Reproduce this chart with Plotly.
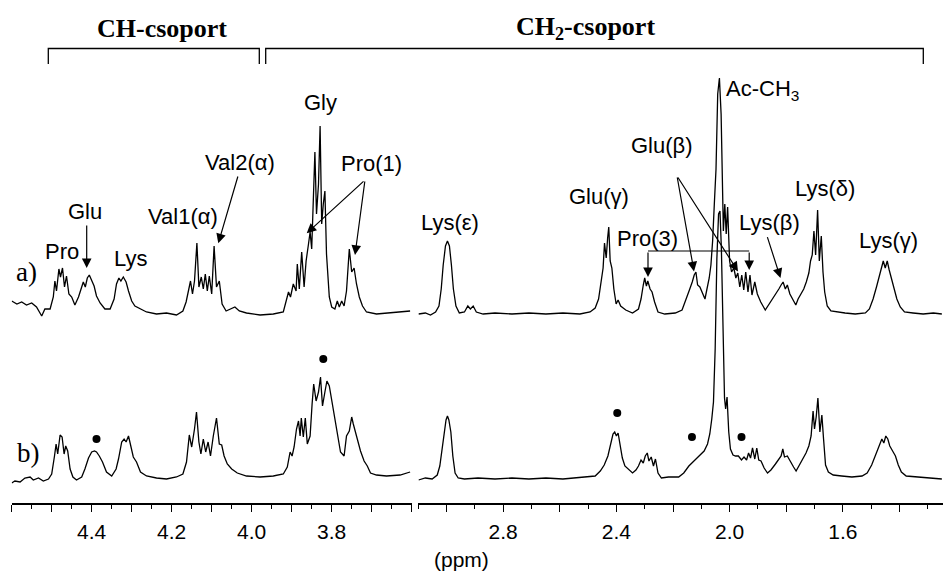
import plotly.graph_objects as go

# ---------------- data (ppm, intensity above the spectrum's baseline) ----------------
a_left_ppm = [4.600, 4.587, 4.575, 4.563, 4.550, 4.538, 4.525, 4.517, 4.504, 4.496,
              4.492, 4.488, 4.482, 4.478, 4.473, 4.468, 4.463, 4.457, 4.450, 4.442,
              4.433, 4.427, 4.421, 4.416, 4.411, 4.406, 4.400, 4.394, 4.388, 4.379,
              4.367, 4.354, 4.344, 4.338, 4.332, 4.327, 4.321, 4.314, 4.308, 4.300,
              4.292, 4.279, 4.263, 4.238, 4.213, 4.188, 4.172, 4.164, 4.158, 4.153,
              4.148, 4.143, 4.137, 4.132, 4.126, 4.121, 4.116, 4.111, 4.106, 4.100,
              4.094, 4.088, 4.081, 4.074, 4.064, 4.053, 4.042, 4.031, 4.013, 3.979,
              3.946, 3.921, 3.913, 3.908, 3.903, 3.896, 3.889, 3.886, 3.881, 3.875,
              3.869, 3.864, 3.858, 3.854, 3.850, 3.846, 3.842, 3.838, 3.833, 3.829,
              3.825, 3.821, 3.817, 3.813, 3.806, 3.800, 3.792, 3.786, 3.781, 3.775,
              3.769, 3.763, 3.756, 3.750, 3.744, 3.738, 3.731, 3.723, 3.713, 3.688,
              3.663, 3.629, 3.604]
a_left_int = [13, 10, 12, 9, 11, 7, -2, 5, 5, 17,
              33, 23, 45, 37, 46, 27, 38, 20, 17, 9,
              17, 25, 32, 27, 36, 39, 33, 28, 18, 11,
              5, 5, 15, 30, 36, 33, 37, 32, 23, 13,
              8, 5, 2, 0, 1, -1, 3, 12, 23, 33,
              20, 33, 71, 27, 37, 25, 40, 23, 38, 20,
              68, 27, 33, 10, 3, 5, 7, 3, 1, -1,
              0, 2, 13, 22, 17, 30, 23, 50, 25, 62,
              27, 53, 70, 82, 65, 110, 162, 100, 130, 188,
              90, 110, 123, 60, 17, 7, 5, 13, 7, 13,
              8, 23, 65, 42, 46, 30, 17, 8, 2, 0,
              1, 2, 3]

a_right_ppm = [3.099, 3.075, 3.057, 3.039, 3.027, 3.019, 3.012, 3.004, 2.997, 2.990,
               2.983, 2.976, 2.967, 2.955, 2.937, 2.925, 2.916, 2.906, 2.895, 2.871,
               2.829, 2.769, 2.709, 2.649, 2.589, 2.529, 2.493, 2.475, 2.463, 2.453,
               2.447, 2.442, 2.436, 2.431, 2.427, 2.422, 2.416, 2.409, 2.401, 2.394,
               2.385, 2.367, 2.343, 2.322, 2.313, 2.305, 2.300, 2.294, 2.289, 2.281,
               2.274, 2.265, 2.253, 2.229, 2.192, 2.168, 2.154, 2.142, 2.132, 2.125,
               2.119, 2.113, 2.105, 2.096, 2.087, 2.080, 2.072, 2.066, 2.060, 2.054,
               2.048, 2.042, 2.036, 2.030, 2.025, 2.022, 2.017, 2.012, 2.007, 2.000,
               1.993, 1.985, 1.978, 1.971, 1.964, 1.957, 1.950, 1.943, 1.935, 1.928,
               1.921, 1.911, 1.902, 1.890, 1.874, 1.862, 1.850, 1.838, 1.826, 1.818,
               1.811, 1.803, 1.796, 1.787, 1.777, 1.766, 1.758, 1.748, 1.738, 1.729,
               1.720, 1.714, 1.708, 1.702, 1.696, 1.689, 1.683, 1.676, 1.670, 1.664,
               1.655, 1.642, 1.622, 1.592, 1.556, 1.520, 1.506, 1.493, 1.481, 1.472,
               1.465, 1.457, 1.450, 1.443, 1.436, 1.429, 1.419, 1.409, 1.397, 1.382,
               1.352, 1.316, 1.280, 1.250]
a_right_int = [0, 1, -1, 2, 8, 25, 49, 68, 73, 68,
               49, 25, 8, 1, 2, 8, 5, 8, 2, 0,
               1, 0, 1, 0, 1, 0, 2, 6, 15, 32,
               46, 71, 56, 76, 87, 53, 46, 25, 10, 14,
               8, 4, 1, 5, 15, 29, 36, 28, 33, 25,
               22, 12, 2, 0, 1, 4, 14, 24, 32, 39,
               42, 29, 27, 20, 15, 25, 36, 49, 73, 110,
               145, 220, 236, 200, 107, 83, 110, 80, 107, 53,
               42, 46, 36, 41, 27, 39, 24, 42, 22, 39,
               19, 32, 20, 12, 4, 9, 14, 20, 25, 29,
               32, 25, 29, 20, 15, 9, 15, 20, 25, 32,
               41, 53, 59, 83, 59, 104, 53, 78, 42, 22,
               8, 3, 2, 1, 0, 1, 5, 15, 27, 36,
               44, 53, 46, 53, 44, 36, 25, 15, 7, 2,
               1, 0, 1, 0]

b_left_ppm = [4.600, 4.592, 4.579, 4.567, 4.554, 4.546, 4.533, 4.521, 4.508, 4.500,
              4.493, 4.489, 4.485, 4.479, 4.474, 4.469, 4.465, 4.460, 4.454, 4.447,
              4.438, 4.425, 4.417, 4.408, 4.400, 4.393, 4.388, 4.381, 4.373, 4.363,
              4.350, 4.339, 4.333, 4.325, 4.319, 4.314, 4.308, 4.303, 4.296, 4.288,
              4.278, 4.263, 4.238, 4.213, 4.188, 4.172, 4.163, 4.156, 4.150, 4.143,
              4.138, 4.132, 4.127, 4.121, 4.115, 4.109, 4.103, 4.096, 4.088, 4.081,
              4.075, 4.069, 4.061, 4.050, 4.036, 4.013, 3.979, 3.946, 3.921, 3.911,
              3.904, 3.899, 3.894, 3.888, 3.883, 3.879, 3.876, 3.871, 3.866, 3.861,
              3.854, 3.849, 3.845, 3.839, 3.833, 3.828, 3.823, 3.817, 3.812, 3.806,
              3.800, 3.793, 3.786, 3.778, 3.769, 3.763, 3.756, 3.750, 3.746, 3.741,
              3.735, 3.728, 3.719, 3.711, 3.703, 3.688, 3.663, 3.629, 3.604]
b_left_int = [-4, -2, -3, 1, 2, -1, 1, -2, 0, 5,
              23, 35, 25, 44, 42, 25, 33, 28, 10, 2,
              -1, 2, 10, 21, 27, 28, 27, 23, 17, 7,
              3, 10, 20, 37, 40, 37, 43, 33, 22, 17,
              7, 3, 1, 0, 2, 5, 17, 44, 32, 50,
              67, 37, 25, 40, 27, 37, 23, 43, 61, 35,
              34, 23, 15, 10, 6, 3, 2, 3, 5, 12,
              27, 23, 32, 50, 58, 43, 61, 42, 61, 35,
              43, 75, 95, 78, 87, 102, 73, 87, 98, 93,
              78, 63, 47, 27, 23, 43, 48, 62, 55, 47,
              40, 28, 18, 13, 6, 4, 3, 4, 7]

b_right_ppm = [3.099, 3.075, 3.051, 3.033, 3.024, 3.015, 3.008, 3.002, 2.997, 2.992,
               2.985, 2.978, 2.970, 2.959, 2.937, 2.889, 2.829, 2.769, 2.709, 2.649,
               2.589, 2.541, 2.505, 2.475, 2.457, 2.443, 2.430, 2.421, 2.412, 2.406,
               2.400, 2.394, 2.387, 2.379, 2.370, 2.358, 2.343, 2.331, 2.322, 2.313,
               2.305, 2.298, 2.291, 2.285, 2.277, 2.269, 2.262, 2.253, 2.241, 2.216,
               2.180, 2.162, 2.144, 2.126, 2.108, 2.090, 2.078, 2.070, 2.063, 2.057,
               2.051, 2.045, 2.039, 2.034, 2.029, 2.023, 2.018, 2.014, 2.009, 2.003,
               1.997, 1.988, 1.979, 1.969, 1.958, 1.949, 1.940, 1.933, 1.926, 1.919,
               1.911, 1.904, 1.897, 1.889, 1.878, 1.866, 1.854, 1.838, 1.826, 1.818,
               1.812, 1.806, 1.796, 1.787, 1.774, 1.765, 1.754, 1.742, 1.730, 1.720,
               1.712, 1.705, 1.700, 1.694, 1.688, 1.681, 1.674, 1.668, 1.661, 1.651,
               1.634, 1.604, 1.568, 1.532, 1.514, 1.498, 1.484, 1.472, 1.462, 1.455,
               1.448, 1.441, 1.434, 1.424, 1.414, 1.404, 1.393, 1.376, 1.340, 1.304,
               1.250]
b_right_int = [-1, 1, 0, 4, 13, 31, 50, 59, 63, 59,
               47, 23, 6, 1, 0, 1, 0, 1, 0, 1,
               0, 1, 2, 3, 8, 14, 23, 33, 45, 47,
               43, 46, 36, 21, 13, 10, 6, 9, 13, 19,
               16, 23, 26, 18, 22, 13, 20, 6, 1, 2,
               2, 6, 13, 18, 23, 28, 35, 45, 60, 77,
               130, 220, 265, 268, 230, 140, 81, 70, 82, 47,
               30, 24, 23, 23, 19, 22, 19, 26, 21, 31,
               20, 31, 19, 18, 11, 6, 9, 15, 20, 23,
               30, 22, 23, 18, 12, 8, 14, 19, 26, 33,
               43, 68, 50, 62, 81, 47, 64, 40, 14, 7,
               4, 3, 2, 3, 6, 14, 24, 31, 40, 36,
               43, 40, 33, 28, 23, 14, 7, 3, 2, 1,
               0]

# peaks marked with a dot in spectrum b)
dot_left_ppm = [4.388, 3.821]
dot_left_int = [40, 120]
dot_right_ppm = [2.397, 2.133, 1.958]
dot_right_int = [66, 42, 42]

# axis ticks
left_major = [4.6, 4.5, 4.4, 4.3, 4.2, 4.1, 4.0, 3.9, 3.8, 3.7, 3.6]
left_minor = [4.55, 4.45, 4.35, 4.25, 4.15, 4.05, 3.95, 3.85, 3.75, 3.65]
left_labels = ["", "", "4.4", "", "4.2", "", "4.0", "", "3.8", "", ""]
right_major = [3.0, 2.8, 2.6, 2.4, 2.2, 2.0, 1.8, 1.6, 1.4]
right_minor = [3.1, 2.9, 2.7, 2.5, 2.3, 2.1, 1.9, 1.7, 1.5, 1.3]
right_labels = ["", "2.8", "", "2.4", "", "2.0", "", "1.6", ""]

# ---------------- layout geometry (pixels) ----------------
W, H = 943, 574
AXIS_Y = 503          # pixel row of the x axis line
A_BASE = 314          # pixel row of spectrum a) baseline
B_BASE = 479          # pixel row of spectrum b) baseline
LEFT_X0, LEFT_X1 = 11.7, 411.7
RIGHT_X0 = 418.3
RIGHT_PX_PER_PPM = 283.0
LEFT_RANGE = [4.6, 3.6]
RIGHT_RANGE = [3.1, 3.1 - (W - RIGHT_X0) / RIGHT_PX_PER_PPM]

SANS = "Liberation Sans, Arial, Helvetica, sans-serif"
SERIF = "Liberation Serif, Times New Roman, serif"


def px(x):
    return x / W


def py(y):
    return (AXIS_Y - y) / AXIS_Y


fig = go.Figure()


def add_spec(ppm, inten, base, xa):
    off = AXIS_Y - base
    fig.add_trace(go.Scatter(x=ppm, y=[v + off for v in inten], mode="lines",
                             line=dict(color="black", width=1.3),
                             xaxis=xa, yaxis="y", hoverinfo="skip", showlegend=False))


add_spec(a_left_ppm, a_left_int, A_BASE, "x")
add_spec(a_right_ppm, a_right_int, A_BASE, "x2")
add_spec(b_left_ppm, b_left_int, B_BASE, "x")
add_spec(b_right_ppm, b_right_int, B_BASE, "x2")

fig.add_trace(go.Scatter(x=dot_left_ppm, y=[v + AXIS_Y - B_BASE for v in dot_left_int],
                         mode="markers", marker=dict(size=8, color="black"),
                         xaxis="x", yaxis="y", hoverinfo="skip", showlegend=False))
fig.add_trace(go.Scatter(x=dot_right_ppm, y=[v + AXIS_Y - B_BASE for v in dot_right_int],
                         mode="markers", marker=dict(size=8, color="black"),
                         xaxis="x2", yaxis="y", hoverinfo="skip", showlegend=False))

axis_common = dict(showline=True, linecolor="black", linewidth=1.5, ticks="outside",
                   ticklen=7, tickwidth=1.2, tickcolor="black", showgrid=False,
                   zeroline=False, anchor="y", tickmode="array",
                   tickfont=dict(family=SANS, size=21, color="black"),
                   ticklabelstandoff=2)

fig.update_layout(
    width=W, height=H,
    margin=dict(l=0, r=0, t=0, b=H - AXIS_Y, pad=0),
    paper_bgcolor="white", plot_bgcolor="white",
    showlegend=False,
    xaxis=dict(domain=[px(LEFT_X0), px(LEFT_X1)], range=LEFT_RANGE,
               tickvals=left_major, ticktext=left_labels,
               minor=dict(tickmode="array", tickvals=left_minor, ticks="outside",
                          ticklen=4, tickwidth=1.2, tickcolor="black", showgrid=False),
               **axis_common),
    xaxis2=dict(domain=[px(RIGHT_X0), 1.0], range=RIGHT_RANGE,
                tickvals=right_major, ticktext=right_labels,
                minor=dict(tickmode="array", tickvals=right_minor, ticks="outside",
                           ticklen=4, tickwidth=1.2, tickcolor="black", showgrid=False),
                **axis_common),
    yaxis=dict(domain=[0, 1], range=[0, AXIS_Y], visible=False, fixedrange=True),
)

# ---------------- text labels ----------------
LS = 22
labels = [
    ("CH-csoport", 162, 28, SERIF, 26, True, "center"),
    ("CH<sub>2</sub>-csoport", 585, 28, SERIF, 26, True, "center"),
    ("Gly", 320, 103, SANS, LS, False, "center"),
    ("Val2(α)", 240, 162, SANS, LS, False, "center"),
    ("Pro(1)", 371.7, 163, SANS, LS, False, "center"),
    ("Val1(α)", 183.3, 216.7, SANS, LS, False, "center"),
    ("Glu", 85, 211.7, SANS, LS, False, "center"),
    ("Pro", 61.7, 251.7, SANS, LS, False, "center"),
    ("Lys", 130, 258.3, SANS, LS, False, "center"),
    ("Lys(ε)", 450, 222, SANS, LS, False, "center"),
    ("Glu(γ)", 598.6, 196.5, SANS, LS, False, "center"),
    ("Pro(3)", 647, 239, SANS, LS, False, "center"),
    ("Glu(β)", 661.5, 145.5, SANS, LS, False, "center"),
    ("Ac-CH<sub>3</sub>", 724, 90, SANS, LS, False, "left"),
    ("Lys(β)", 769.5, 222, SANS, LS, False, "center"),
    ("Lys(δ)", 824.7, 188, SANS, LS, False, "center"),
    ("Lys(γ)", 888.4, 240.7, SANS, LS, False, "center"),
    ("a)", 26.7, 271.7, SERIF, 27, False, "center"),
    ("b)", 28.3, 453.3, SERIF, 27, False, "center"),
    ("(ppm)", 461, 559, SANS, 21, False, "center"),
]
annotations = []
for text, x, y, fam, size, bold, anchor in labels:
    annotations.append(dict(
        text=f"<b>{text}</b>" if bold else text,
        x=px(x), y=py(y), xref="paper", yref="paper",
        xanchor=anchor, yanchor="middle", showarrow=False,
        font=dict(family=fam, size=size, color="black")))

# arrows: (tail_x, tail_y, tip_x, tip_y) in pixels
arrows = [
    (86.7, 224, 86.7, 268),
    (238.3, 175, 218.3, 243.3),
    (365, 180, 306.7, 233.3),
    (365, 180, 355, 255),
    (677, 176, 694, 271.4),
    (677, 176, 738, 271.4),
    (648, 251, 648, 277),
    (749.2, 251, 749.2, 270),
    (766.9, 235.6, 780.5, 278),
]
for tx, ty, hx, hy in arrows:
    annotations.append(dict(
        text="", x=px(hx), y=py(hy), xref="paper", yref="paper",
        ax=tx - hx, ay=ty - hy, axref="pixel", ayref="pixel",
        showarrow=True, arrowhead=2, arrowsize=1.6, arrowwidth=1.2,
        arrowcolor="black", standoff=0, startstandoff=0))

fig.update_layout(annotations=annotations)

# ---------------- brackets ----------------
def bracket(x0, x1, ytop, ybot):
    return dict(type="path", xref="paper", yref="paper",
                path=f"M {px(x0)},{py(ybot)} L {px(x0)},{py(ytop)} L {px(x1)},{py(ytop)} L {px(x1)},{py(ybot)}",
                line=dict(color="black", width=1.3))


shapes = [
    bracket(48.3, 259.3, 48.5, 64),
    bracket(265.7, 923.3, 48.5, 64),
    dict(type="line", xref="paper", yref="paper",
         x0=px(648), y0=py(251), x1=px(749.2), y1=py(251),
         line=dict(color="black", width=1.2)),
]
fig.update_layout(shapes=shapes)

fig.write_html("out.html")
